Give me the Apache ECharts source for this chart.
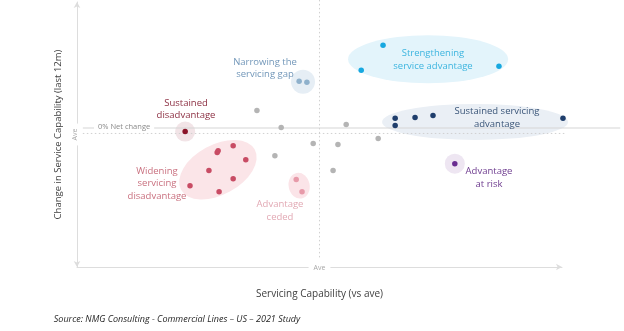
<!DOCTYPE html>
<html>
<head>
<meta charset="utf-8">
<script src="https://cdn.jsdelivr.net/npm/echarts@6/dist/echarts.min.js"></script>
<style>
  html, body { margin: 0; padding: 0; background: #ffffff; }
  #chart { width: 624px; height: 331px; }
</style>
</head>
<body>
<div id="chart"></div>
<script>
// Servicing capability (x, vs average) against change in service capability (y, last 12m)
// Each group is a list of [x, y] positions relative to the average (0, 0).
const otherCarriers = [[-12.9, 9.1], [-7.9, 2.6], [-1.3, -3.4], [-9.2, -8.0], [5.5, 3.8], [3.8, -3.8], [12.1, -1.5], [2.8, -13.6]];
const narrowingGap = [[-4.2, 20.1], [-2.6, 19.7]];
const strengthening = [[13.1, 33.7], [8.6, 24.2], [37.0, 25.8]];
const sustainedAdvantage = [[15.6, 6.1], [15.6, 3.4], [19.7, 6.4], [23.4, 7.2], [50.2, 6.1]];
const advantageAtRisk = [[27.9, -11.0]];
const sustainedDisadvantage = [[-27.7, 1.1]];
const wideningDisadvantage = [[-17.8, -4.2], [-21.1, -6.8], [-20.9, -6.1], [-15.2, -9.5], [-22.8, -13.6], [-17.8, -16.7], [-26.7, -19.3], [-20.7, -21.6]];
const advantageCeded = [[-4.8, -17.0], [-3.6, -21.6]];

const netChangeLevel = 2.45;   // 0% net change in service capability
const axisTickLabel = 'Ave';

// guide lines: [x1, y1, x2, y2, kind]
const guideLines = [
  [0, 50.8, 0, -46.6, 'dotted'],                    // average servicing capability
  [-48.8, 0.4, 50.6, 0.4, 'dotted'],                // average change
  [-48.8, netChangeLevel, 62, netChangeLevel, 'solid'] // 0% net change
];

const groups = [
  { name: 'Other', data: otherCarriers, color: '#b4b4b4' },
  { name: 'Narrowing the servicing gap', data: narrowingGap, color: '#8fb1cc', zone: { fill: '#e6eef5', rx: 12, ry: 12 } },
  { name: 'Strengthening service advantage', data: strengthening, color: '#17a8e0', zone: { fill: '#e3f4fb', rx: 80, ry: 24, dx: -2, dy: 1.5 } },
  { name: 'Sustained servicing advantage', data: sustainedAdvantage, color: '#1f3e6c', zone: { fill: '#eaeff5', rx: 93, ry: 18, dx: -4, dy: 1.5 } },
  { name: 'Advantage at risk', data: advantageAtRisk, color: '#6a2d91', zone: { fill: '#eee6f2', rx: 10, ry: 10 } },
  { name: 'Sustained disadvantage', data: sustainedDisadvantage, color: '#8a1328', zone: { fill: '#f2e4e7', rx: 10, ry: 10 } },
  { name: 'Widening servicing disadvantage', data: wideningDisadvantage, color: '#c84c64', zone: { fill: '#fbe5e8', rx: 42, ry: 25, rot: 0.5, dx: 0, dy: 1 } },
  { name: 'Advantage ceded', data: advantageCeded, color: '#e79aa9', zone: { fill: '#fbe4e8', rx: 10.5, ry: 13, rot: 0.2 } }
];

// bounding-box centre of a group's points, in data units
function groupCentre(pts) {
  const xs = pts.map(p => p[0]), ys = pts.map(p => p[1]);
  return [(Math.min(...xs) + Math.max(...xs)) / 2, (Math.min(...ys) + Math.max(...ys)) / 2];
}

const zoneGroups = groups.filter(g => g.zone);

const labelFont = '"Open Sans", "Noto Sans", sans-serif';
const annotations = [
  { text: 'Narrowing the\nservicing gap', x: 265, y: 68.5, color: '#7297b9' },
  { text: 'Sustained\ndisadvantage', x: 186, y: 109.5, color: '#8c2f42' },
  { text: 'Strengthening\nservice advantage', x: 433, y: 60, color: '#3db5df' },
  { text: 'Sustained servicing\nadvantage', x: 497, y: 118, color: '#3a5578' },
  { text: 'Advantage\nat risk', x: 489, y: 178, color: '#6e3c8f' },
  { text: 'Widening\nservicing\ndisadvantage', x: 157, y: 183.5, color: '#c9707f' },
  { text: 'Advantage\nceded', x: 280, y: 211, color: '#e2a9b4' }
];

const chart = echarts.init(document.getElementById('chart'), null, { renderer: 'canvas' });

const axisLineStyle = { color: '#dddddd', width: 1 };

const series = [];

// soft highlight zones behind each group
series.push({
  type: 'custom',
  name: 'zones',
  z: 1,
  silent: true,
  clip: false,
  data: zoneGroups.map(g => groupCentre(g.data)),
  renderItem: function (params, api) {
    const z = zoneGroups[params.dataIndex].zone;
    const p = api.coord([api.value(0), api.value(1)]);
    return {
      type: 'circle',
      x: p[0] + (z.dx || 0),
      y: p[1] + (z.dy || 0),
      scaleX: z.rx,
      scaleY: z.ry,
      rotation: z.rot || 0,
      shape: { cx: 0, cy: 0, r: 1 },
      style: { fill: z.fill }
    };
  }
});

// guide lines through the averages and the 0% net change level
series.push({
  type: 'custom',
  name: 'guides',
  z: 2,
  silent: true,
  clip: false,
  data: guideLines.map(l => [l[0], l[1], l[2], l[3]]),
  renderItem: function (params, api) {
    const kind = guideLines[params.dataIndex][4];
    const a = api.coord([api.value(0), api.value(1)]);
    const b = api.coord([api.value(2), api.value(3)]);
    return {
      type: 'line',
      shape: { x1: a[0], y1: a[1], x2: b[0], y2: b[1] },
      style: kind === 'solid'
        ? { stroke: '#d6d6d6', lineWidth: 1.2 }
        : { stroke: '#d0d0d0', lineWidth: 1, lineDash: [1.5, 2.5] }
    };
  }
});

groups.forEach(g => {
  series.push({
    type: 'scatter',
    name: g.name,
    data: g.data,
    z: 5,
    clip: false,
    symbol: 'circle',
    symbolSize: 5.5,
    itemStyle: { color: g.color, opacity: 1 },
    emphasis: { disabled: true }
  });
});

const axisLabelBase = {
  show: true,
  fontSize: 7,
  color: '#a8a8a8',
  fontFamily: labelFont,
  backgroundColor: '#ffffff',
  padding: [0, 5, 0, 5],
  showMinLabel: false,
  showMaxLabel: false,
  formatter: v => (v === 0 ? axisTickLabel : '')
};

const option = {
  animation: false,
  backgroundColor: '#ffffff',
  grid: { left: 77, right: 62, top: 2, bottom: 64 },
  xAxis: {
    type: 'value',
    min: -50, max: 50, interval: 50,
    name: 'Servicing Capability (vs ave)',
    nameLocation: 'middle',
    nameGap: 22,
    nameTextStyle: { fontFamily: labelFont, fontSize: 10, color: '#404040' },
    axisLine: { show: true, onZero: false, lineStyle: axisLineStyle, symbol: ['none', 'arrow'], symbolSize: [5, 6] },
    axisTick: { show: false },
    splitLine: { show: false },
    axisLabel: Object.assign({}, axisLabelBase, { margin: -3 })
  },
  yAxis: {
    type: 'value',
    min: -50, max: 50, interval: 50,
    name: 'Change in Service Capability (last 12m)',
    nameLocation: 'middle',
    nameGap: 14,
    nameRotate: 90,
    nameTextStyle: { fontFamily: labelFont, fontSize: 9.5, color: '#404040' },
    axisLine: { show: true, onZero: false, lineStyle: axisLineStyle, symbol: ['arrow', 'arrow'], symbolSize: [5, 6] },
    axisTick: { show: false },
    splitLine: { show: false },
    axisLabel: Object.assign({}, axisLabelBase, { rotate: 90, margin: -1 })
  },
  graphic: [
    {
      type: 'text',
      z: 100,
      left: 94, top: 123,
      style: {
        text: '0% Net change',
        font: '7.5px ' + labelFont,
        fill: '#8a8a8a',
        backgroundColor: '#ffffff',
        padding: [0, 4, 0, 4]
      }
    },
    ...annotations.map(a => ({
      type: 'text',
      z: 100,
      x: a.x, y: a.y,
      style: {
        text: a.text,
        font: '9.5px ' + labelFont,
        fill: a.color,
        align: 'center',
        verticalAlign: 'middle',
        lineHeight: 12.5
      }
    })),
    {
      type: 'text',
      z: 100,
      x: 177, y: 319,
      style: {
        text: 'Source: NMG Consulting - Commercial Lines – US – 2021 Study',
        font: 'italic 9px ' + labelFont,
        fill: '#262626',
        align: 'center',
        verticalAlign: 'middle'
      }
    }
  ],
  series: series
};

chart.setOption(option);
</script>
</body>
</html>
